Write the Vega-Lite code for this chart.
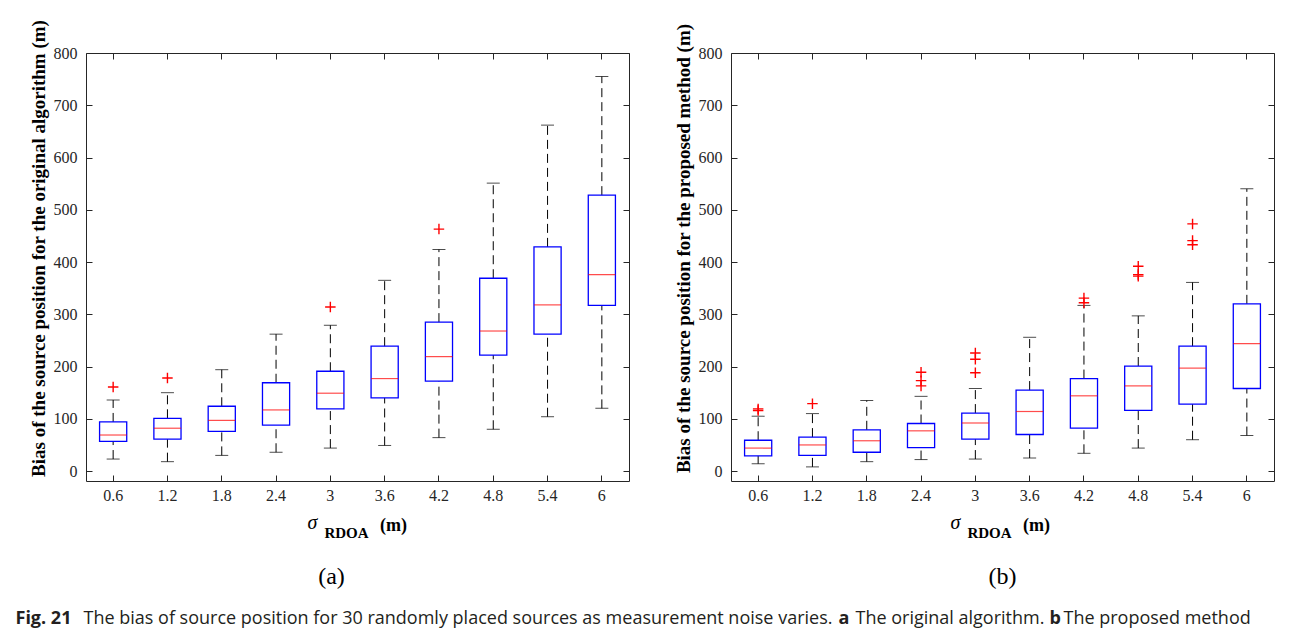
{
  "$schema": "https://vega.github.io/schema/vega-lite/v6.json",
  "background": "white",
  "padding": {"left": 15, "top": 18, "right": 0, "bottom": 0},
  "datasets": {
    "boxes_a": [
      {"s":"0.6","lo":23,"q1":57,"med":69,"q3":94,"hi":136},
      {"s":"1.2","lo":18,"q1":61,"med":82,"q3":101,"hi":150},
      {"s":"1.8","lo":30,"q1":76,"med":97,"q3":124,"hi":194},
      {"s":"2.4","lo":36,"q1":88,"med":117,"q3":169,"hi":262},
      {"s":"3","lo":44,"q1":119,"med":149,"q3":191,"hi":279},
      {"s":"3.6","lo":49,"q1":140,"med":177,"q3":239,"hi":365},
      {"s":"4.2","lo":64,"q1":172,"med":219,"q3":285,"hi":424},
      {"s":"4.8","lo":80,"q1":222,"med":268,"q3":369,"hi":551},
      {"s":"5.4","lo":104,"q1":262,"med":318,"q3":429,"hi":662},
      {"s":"6","lo":120,"q1":317,"med":376,"q3":528,"hi":755}
    ],
    "out_a": [
      {"s":"0.6","v":161},{"s":"1.2","v":178},{"s":"3","v":314},{"s":"4.2","v":463}
    ],
    "boxes_b": [
      {"s":"0.6","lo":14,"q1":29,"med":44,"q3":59,"hi":105},
      {"s":"1.2","lo":8,"q1":30,"med":50,"q3":65,"hi":110},
      {"s":"1.8","lo":18,"q1":36,"med":58,"q3":79,"hi":135},
      {"s":"2.4","lo":22,"q1":45,"med":77,"q3":91,"hi":143},
      {"s":"3","lo":23,"q1":61,"med":92,"q3":111,"hi":158},
      {"s":"3.6","lo":25,"q1":70,"med":114,"q3":155,"hi":256},
      {"s":"4.2","lo":34,"q1":82,"med":144,"q3":177,"hi":317},
      {"s":"4.8","lo":44,"q1":116,"med":163,"q3":201,"hi":297},
      {"s":"5.4","lo":60,"q1":128,"med":197,"q3":239,"hi":361},
      {"s":"6","lo":68,"q1":158,"med":244,"q3":320,"hi":540}
    ],
    "out_b": [
      {"s":"0.6","v":116},{"s":"0.6","v":119},{"s":"1.2","v":129},
      {"s":"2.4","v":163},{"s":"2.4","v":173},{"s":"2.4","v":189},
      {"s":"3","v":188},{"s":"3","v":214},{"s":"3","v":226},
      {"s":"4.2","v":322},{"s":"4.2","v":331},
      {"s":"4.8","v":373},{"s":"4.8","v":376},{"s":"4.8","v":392},
      {"s":"5.4","v":433},{"s":"5.4","v":441},{"s":"5.4","v":473}
    ]
  },
  "title": {"text": "Fig. 21", "orient": "bottom", "anchor": "start", "frame": "bounds", "dx": -13, "dy": -4, "offset": 0, "baseline": "alphabetic", "font": "Open Sans", "fontSize": 18, "fontWeight": "bold", "color": "#231f20"},
  "vconcat": [{
    "title": {"text": "The proposed method", "orient": "bottom", "anchor": "start", "frame": "bounds", "dx": 1035, "dy": -4, "offset": 0, "baseline": "alphabetic", "font": "Open Sans", "fontSize": 18, "fontWeight": "normal", "color": "#231f20"},
    "vconcat": [{
      "title": {"text": "b", "orient": "bottom", "anchor": "start", "frame": "bounds", "dx": 1021, "dy": -4, "offset": 0, "baseline": "alphabetic", "font": "Open Sans", "fontSize": 18, "fontWeight": "bold", "color": "#231f20"},
      "vconcat": [{
        "title": {"text": "The original algorithm.", "orient": "bottom", "anchor": "start", "frame": "bounds", "dx": 827, "dy": -4, "offset": 0, "baseline": "alphabetic", "font": "Open Sans", "fontSize": 18, "fontWeight": "normal", "color": "#231f20"},
        "vconcat": [{
          "title": {"text": "a", "orient": "bottom", "anchor": "start", "frame": "bounds", "dx": 810, "dy": -4, "offset": 0, "baseline": "alphabetic", "font": "Open Sans", "fontSize": 18, "fontWeight": "bold", "color": "#231f20"},
          "vconcat": [{
            "title": {"text": "The bias of source position for 30 randomly placed sources as measurement noise varies.", "orient": "bottom", "anchor": "start", "frame": "bounds", "dx": 55, "dy": 34, "offset": 0, "baseline": "alphabetic", "font": "Open Sans", "fontSize": 18, "fontWeight": "normal", "color": "#231f20"},
            "spacing": 43,
            "hconcat": [
              {
                "width": 543, "height": 428,
                "title": {"text": "(a)", "orient": "bottom", "anchor": "middle", "frame": "group", "dx": -26, "offset": 44, "baseline": "alphabetic", "font": "Liberation Serif", "fontSize": 24, "fontWeight": "normal", "color": "#000"},
                "data": {"name": "boxes_a"},
                "layer": [
                  {"mark": {"type": "rule", "strokeDash": [9, 5], "color": "#000", "strokeWidth": 1},
                   "encoding": {
                     "x": {"field": "s", "type": "ordinal", "scale": {"type": "band", "domain": ["0.6","1.2","1.8","2.4","3","3.6","4.2","4.8","5.4","6"], "paddingInner": 0, "paddingOuter": 0},
                           "axis": {"orient": "bottom", "title": "σ", "titleX": 226, "titleY": 47, "titleAlign": "center", "titleBaseline": "alphabetic", "titleFontStyle": "italic", "titleFontWeight": "normal", "titleFontSize": 20}},
                     "y": {"field": "q3", "type": "quantitative", "scale": {"domain": [-19, 800], "nice": false, "zero": false},
                           "axis": {"orient": "left", "title": "Bias of the source position for the original algorithm (m)", "titleY": 195, "values": [0,100,200,300,400,500,600,700,800]}},
                     "y2": {"field": "hi"}
                   }},
                  {"mark": {"type": "rule", "strokeDash": [9, 5], "color": "#000", "strokeWidth": 1},
                   "encoding": {
                     "x": {"field": "s", "type": "ordinal", "axis": {"orient": "bottom", "labels": false, "ticks": false, "title": "RDOA", "titleX": 260, "titleY": 56, "titleAlign": "center", "titleBaseline": "alphabetic", "titleFontSize": 15}},
                     "y": {"field": "lo", "type": "quantitative", "axis": null},
                     "y2": {"field": "q1"}
                   }},
                  {"mark": {"type": "tick", "color": "#000", "size": 13, "thickness": 1},
                   "encoding": {
                     "x": {"field": "s", "type": "ordinal", "axis": {"orient": "bottom", "labels": false, "ticks": false, "title": "(m)", "titleX": 307, "titleY": 49, "titleAlign": "center", "titleBaseline": "alphabetic", "titleFontSize": 18}},
                     "y": {"field": "hi", "type": "quantitative", "axis": null}
                   }},
                  {"mark": {"type": "tick", "color": "#000", "size": 13, "thickness": 1},
                   "encoding": {
                     "x": {"field": "s", "type": "ordinal", "axis": null},
                     "y": {"field": "lo", "type": "quantitative", "axis": null}
                   }},
                  {"mark": {"type": "bar", "fill": "white", "fillOpacity": 0, "stroke": "#0000ff", "strokeWidth": 1.3, "width": {"band": 0.5}},
                   "encoding": {
                     "x": {"field": "s", "type": "ordinal", "axis": null},
                     "y": {"field": "q1", "type": "quantitative", "axis": null},
                     "y2": {"field": "q3"}
                   }},
                  {"mark": {"type": "tick", "color": "#ff0000", "size": 27, "thickness": 1.2},
                   "encoding": {
                     "x": {"field": "s", "type": "ordinal", "axis": {"orient": "top", "labels": false, "title": null}},
                     "y": {"field": "med", "type": "quantitative", "axis": {"orient": "right", "labels": false, "title": null, "values": [0,100,200,300,400,500,600,700,800]}}
                   }},
                  {"data": {"name": "out_a"},
                   "mark": {"type": "point", "shape": "M-1,0H1M0,-1V1", "filled": false, "stroke": "#ff0000", "strokeWidth": 1.4, "size": 110, "opacity": 1},
                   "encoding": {
                     "x": {"field": "s", "type": "ordinal", "axis": null},
                     "y": {"field": "v", "type": "quantitative", "axis": null}
                   }}
                ],
                "resolve": {"axis": {"x": "independent", "y": "independent"}}
              },
              {
                "width": 543, "height": 428,
                "title": {"text": "(b)", "orient": "bottom", "anchor": "middle", "frame": "group", "dx": 0, "offset": 44, "baseline": "alphabetic", "font": "Liberation Serif", "fontSize": 24, "fontWeight": "normal", "color": "#000"},
                "data": {"name": "boxes_b"},
                "layer": [
                  {"mark": {"type": "rule", "strokeDash": [9, 5], "color": "#000", "strokeWidth": 1},
                   "encoding": {
                     "x": {"field": "s", "type": "ordinal", "scale": {"type": "band", "domain": ["0.6","1.2","1.8","2.4","3","3.6","4.2","4.8","5.4","6"], "paddingInner": 0, "paddingOuter": 0},
                           "axis": {"orient": "bottom", "title": "σ", "titleX": 224, "titleY": 47, "titleAlign": "center", "titleBaseline": "alphabetic", "titleFontStyle": "italic", "titleFontWeight": "normal", "titleFontSize": 20}},
                     "y": {"field": "q3", "type": "quantitative", "scale": {"domain": [-19, 800], "nice": false, "zero": false},
                           "axis": {"orient": "left", "title": "Bias of the source position for the proposed method (m)", "titleY": 195, "values": [0,100,200,300,400,500,600,700,800]}},
                     "y2": {"field": "hi"}
                   }},
                  {"mark": {"type": "rule", "strokeDash": [9, 5], "color": "#000", "strokeWidth": 1},
                   "encoding": {
                     "x": {"field": "s", "type": "ordinal", "axis": {"orient": "bottom", "labels": false, "ticks": false, "title": "RDOA", "titleX": 258, "titleY": 56, "titleAlign": "center", "titleBaseline": "alphabetic", "titleFontSize": 15}},
                     "y": {"field": "lo", "type": "quantitative", "axis": null},
                     "y2": {"field": "q1"}
                   }},
                  {"mark": {"type": "tick", "color": "#000", "size": 13, "thickness": 1},
                   "encoding": {
                     "x": {"field": "s", "type": "ordinal", "axis": {"orient": "bottom", "labels": false, "ticks": false, "title": "(m)", "titleX": 305, "titleY": 49, "titleAlign": "center", "titleBaseline": "alphabetic", "titleFontSize": 18}},
                     "y": {"field": "hi", "type": "quantitative", "axis": null}
                   }},
                  {"mark": {"type": "tick", "color": "#000", "size": 13, "thickness": 1},
                   "encoding": {
                     "x": {"field": "s", "type": "ordinal", "axis": null},
                     "y": {"field": "lo", "type": "quantitative", "axis": null}
                   }},
                  {"mark": {"type": "bar", "fill": "white", "fillOpacity": 0, "stroke": "#0000ff", "strokeWidth": 1.3, "width": {"band": 0.5}},
                   "encoding": {
                     "x": {"field": "s", "type": "ordinal", "axis": null},
                     "y": {"field": "q1", "type": "quantitative", "axis": null},
                     "y2": {"field": "q3"}
                   }},
                  {"mark": {"type": "tick", "color": "#ff0000", "size": 27, "thickness": 1.2},
                   "encoding": {
                     "x": {"field": "s", "type": "ordinal", "axis": {"orient": "top", "labels": false, "title": null}},
                     "y": {"field": "med", "type": "quantitative", "axis": {"orient": "right", "labels": false, "title": null, "values": [0,100,200,300,400,500,600,700,800]}}
                   }},
                  {"data": {"name": "out_b"},
                   "mark": {"type": "point", "shape": "M-1,0H1M0,-1V1", "filled": false, "stroke": "#ff0000", "strokeWidth": 1.4, "size": 110, "opacity": 1},
                   "encoding": {
                     "x": {"field": "s", "type": "ordinal", "axis": null},
                     "y": {"field": "v", "type": "quantitative", "axis": null}
                   }}
                ],
                "resolve": {"axis": {"x": "independent", "y": "independent"}}
              }
            ]
          }]
        }]
      }]
    }]
  }],
  "config": {
    "font": "Liberation Serif",
    "view": {"stroke": "#262626", "strokeWidth": 1},
    "concat": {"spacing": 0},
    "axis": {
      "domain": false, "grid": false,
      "tickColor": "#262626", "tickSize": -6, "tickWidth": 1,
      "labelColor": "#262626", "labelFont": "Liberation Serif", "labelFontSize": 16,
      "titleFont": "Liberation Serif", "titleFontSize": 19, "titleFontWeight": "bold", "titleColor": "#000"
    },
    "axisX": {"labelAngle": 0, "labelPadding": 12},
    "axisY": {"labelPadding": 15, "titlePadding": 5}
  }
}
